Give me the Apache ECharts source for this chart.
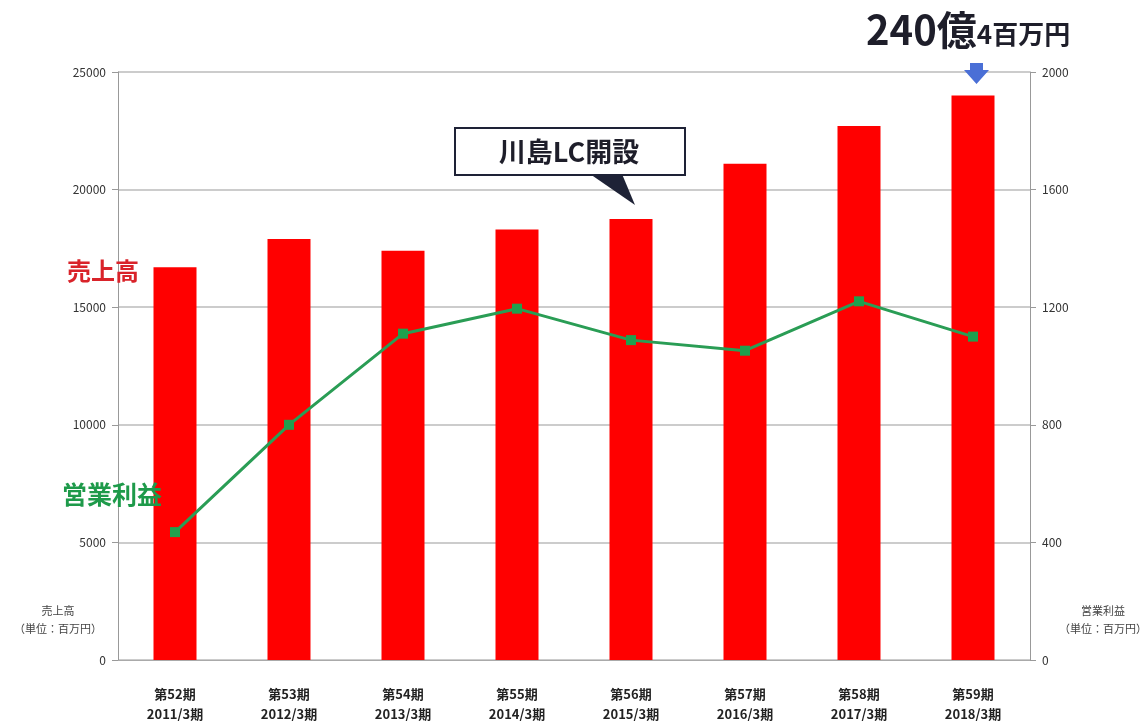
<!DOCTYPE html>
<html><head><meta charset="utf-8">
<script src="https://cdn.jsdelivr.net/npm/echarts@6/dist/echarts.min.js"></script>
<style>html,body{margin:0;padding:0;background:#fff}#c{width:1146px;height:727px}</style>
</head><body><div id="c"></div>
<script>
const periods = ['第52期','第53期','第54期','第55期','第56期','第57期','第58期','第59期'];
const years = ['2011/3期','2012/3期','2013/3期','2014/3期','2015/3期','2016/3期','2017/3期','2018/3期'];
const sales = [16700, 17900, 17400, 18300, 18750, 21100, 22700, 24004];
const profit = [435, 800, 1110, 1195, 1088, 1052, 1220, 1100];
const categories = periods.map((p,i)=>p+'\n'+years[i]);
const font = '"Noto Sans CJK JP", "Noto Sans", sans-serif';

const chart = echarts.init(document.getElementById('c'));
chart.setOption({
  animation:false,
  textStyle:{fontFamily:font},
  grid:{left:118, right:116, top:72, bottom:67},
  xAxis:{type:'category', data:categories,
    axisLine:{lineStyle:{color:'#aaa', width:1}},
    axisTick:{show:false},
    axisLabel:{color:'#222', fontWeight:'bold', fontSize:13, lineHeight:20, margin:24, fontFamily:font}},
  yAxis:[
    {type:'value', min:0, max:25000, interval:5000, position:'left',
     axisLine:{show:true, lineStyle:{color:'#999'}},
     axisTick:{show:true, length:6, lineStyle:{color:'#999'}},
     splitLine:{lineStyle:{color:'#bbb', width:1.5}},
     axisLabel:{color:'#333', fontSize:12, margin:12, fontFamily:font, formatter:v=>String(v)}},
    {type:'value', min:0, max:2000, interval:400, position:'right',
     axisLine:{show:true, lineStyle:{color:'#999'}},
     axisTick:{show:true, length:6, lineStyle:{color:'#999'}},
     splitLine:{show:false},
     axisLabel:{color:'#333', fontSize:12, margin:12, fontFamily:font, formatter:v=>String(v)}}
  ],
  series:[
    {type:'bar', data:sales, yAxisIndex:0, barWidth:43, itemStyle:{color:'#ff0000'}},
    {type:'line', data:profit, yAxisIndex:1, symbol:'rect', symbolSize:10,
     lineStyle:{color:'#2a9d55', width:3}, itemStyle:{color:'#1fa04e'}}
  ],
  graphic:[
    {type:'text', z:100, left:67, top:259, style:{text:'売上高', fill:'#d9232a', font:'bold 24px '+font}},
    {type:'text', z:100, left:62, top:482, style:{text:'営業利益', fill:'#1e9a4a', font:'bold 25px '+font}},
    {type:'text', z:100, x:58, y:602, style:{text:'売上高\n（単位：百万円）', fill:'#444', font:'11px '+font, align:'center', lineHeight:18}},
    {type:'text', z:100, x:1103, y:602, style:{text:'営業利益\n（単位：百万円）', fill:'#444', font:'11px '+font, align:'center', lineHeight:18}},
    {type:'text', z:100, x:866, y:50, style:{text:'{a|240億}{b|4百万円}', verticalAlign:'bottom', rich:{a:{font:'bold 40px '+font, fill:'#1e1e2a', verticalAlign:'bottom'}, b:{font:'bold 26px '+font, fill:'#1e1e2a', verticalAlign:'bottom', padding:[0,0,3,0]}}}},
    {type:'polygon', z:100, shape:{points:[[970,63],[983,63],[983,70],[989,70],[976.5,84],[964,70],[970,70]]}, style:{fill:'#4a6fd6'}},
    {type:'polygon', z:100, shape:{points:[[590,174],[622,174],[635,205]]}, style:{fill:'#1e2236'}},
    {type:'rect', z:101, shape:{x:455, y:128, width:230, height:47}, style:{fill:'#fff', stroke:'#1e2236', lineWidth:2}},
    {type:'text', z:102, x:569, y:152, style:{text:'川島LC開設', fill:'#1e1e2a', font:'bold 27px '+font, align:'center', verticalAlign:'middle'}}
  ]
});
</script></body></html>
